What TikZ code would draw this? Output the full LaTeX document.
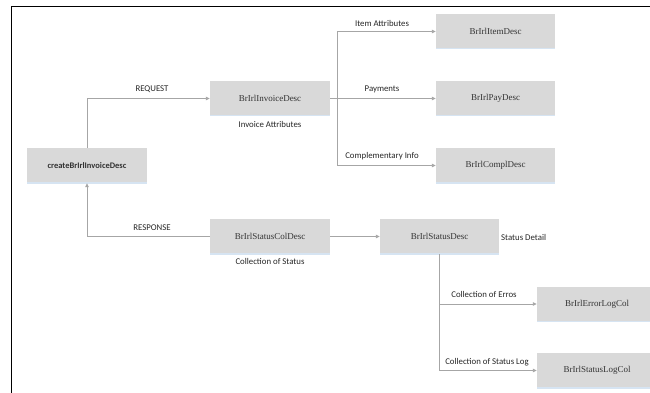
\documentclass[tikz,border=0pt]{standalone}
\usepackage{fontspec}
\setmainfont{Liberation Serif}
\newfontfamily\lblfont{Carlito}
\usetikzlibrary{arrows.meta}
\definecolor{boxgray}{HTML}{D9D9D9}
\definecolor{boxedge}{HTML}{D6E4F2}
\definecolor{linegray}{HTML}{A6A6A6}

\begin{document}
\begin{tikzpicture}[x=1pt,y=-1pt,
    box/.style={fill=boxgray, minimum width=120pt, minimum height=35pt, inner sep=0pt,
      font=\fontsize{9}{10}\selectfont, text=black!80,
      path picture={\draw[boxedge, line width=1.4pt] (path picture bounding box.south west) -- (path picture bounding box.south east);}},
    conn/.style={draw=linegray, line width=0.9pt, -{Triangle[length=4pt,width=3.5pt,fill=linegray]}},
    lbl/.style={font=\lblfont\fontsize{8.8}{10}\selectfont, text=black!85, inner sep=1pt}]
	\useasboundingbox (0,0) rectangle (650,393);
	\draw[black, line width=1pt] (650,7) -- (11,7) -- (11,393);
	% boxes
	\node[box, font=\lblfont\bfseries\fontsize{8.5}{10}\selectfont] (create) at (87,165.5) {createBrIrlInvoiceDesc};
	\node[box] (inv) at (270,98.5) {BrIrlInvoiceDesc};
	\node[box, minimum width=119pt] (item) at (495.5,31.5) {BrIrlItemDesc};
	\node[box, minimum width=119pt] (pay) at (495.5,98.5) {BrIrlPayDesc};
	\node[box, minimum width=119pt] (compl) at (495.5,165.5) {BrIrlComplDesc};
	\node[box] (statcol) at (270,236.5) {BrIrlStatusColDesc};
	\node[box, minimum width=119pt] (stat) at (439.5,236.5) {BrIrlStatusDesc};
	\node[box] (err) at (597,304) {BrIrlErrorLogCol};
	\node[box] (slog) at (597,370.5) {BrIrlStatusLogCol};
	% connectors
	\coordinate (split) at (337,98.5);
	\draw[conn] (create.north) |- (inv.west);
	\draw[conn] (inv.east) -- (pay.west);
	\draw[conn] (split) |- (item.west);
	\draw[conn] (split) |- (compl.west);
	\draw[conn] (statcol.west) -| (create.south);
	\draw[conn] (statcol.east) -- (stat.west);
	\draw[conn] (stat.south) |- (err.west);
	\draw[conn] (stat.south) |- (slog.west);
	% labels
	\node[lbl] (lreq) at (152,89) {REQUEST};
	\node[lbl] (lresp) at (152,228) {RESPONSE};
	\node[lbl] (linv) at (270,124) {Invoice Attributes};
	\node[lbl] (lstatcol) at (270,261) {Collection of Status};
	\node[lbl] (litem) at (382,23) {Item Attributes};
	\node[lbl] (lpay) at (382,89) {Payments};
	\node[lbl] (lcompl) at (382,156) {Complementary Info};
	\node[lbl, anchor=west] (lstat) at (500,237) {Status Detail};
	\node[lbl] (lerr) at (484,294) {Collection of Erros};
	\node[lbl] (lslog) at (487,362) {Collection of Status Log};
\end{tikzpicture}
\end{document}
